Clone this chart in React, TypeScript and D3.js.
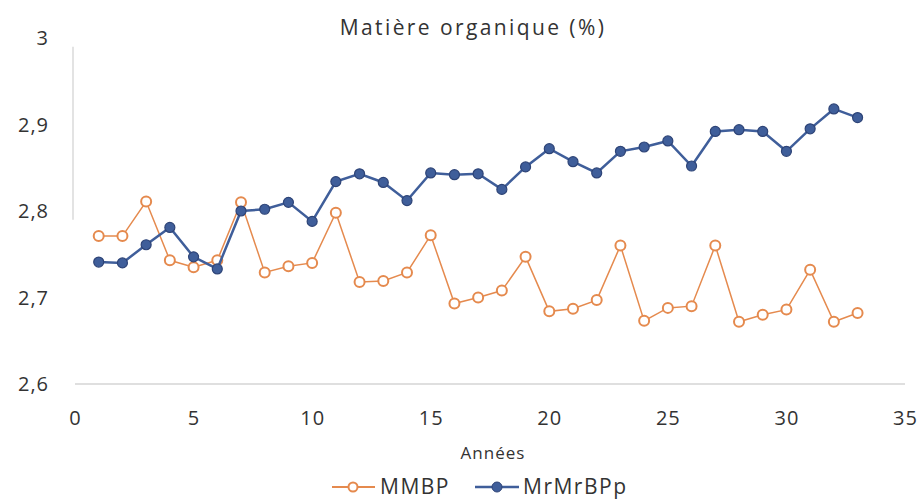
import React from "react";
import * as d3 from "d3";

const years: number[] = Array.from({ length: 33 }, (_, i) => i + 1);
const mmbp: number[] = [
  2.771, 2.771, 2.811, 2.743, 2.735, 2.743, 2.810, 2.729, 2.736, 2.740,
  2.798, 2.718, 2.719, 2.729, 2.772, 2.693, 2.700, 2.708, 2.747, 2.684,
  2.687, 2.697, 2.760, 2.673, 2.688, 2.690, 2.760, 2.672, 2.680, 2.686,
  2.732, 2.672, 2.682,
];
const mrmrbpp: number[] = [
  2.741, 2.740, 2.761, 2.781, 2.747, 2.733, 2.800, 2.802, 2.810, 2.788,
  2.834, 2.843, 2.833, 2.812, 2.844, 2.842, 2.843, 2.825, 2.851, 2.872,
  2.857, 2.844, 2.869, 2.874, 2.881, 2.852, 2.892, 2.894, 2.892, 2.869,
  2.895, 2.918, 2.908,
];
const xTicks: number[] = [0, 5, 10, 15, 20, 25, 30, 35];
const yTicks: number[] = [2.6, 2.7, 2.8, 2.9, 3];
const seriesNames: string[] = ["MMBP", "MrMrBPp"];
const title = "Matière organique (%)";
const xTitle = "Années";

const FONT = "'Open Sans', 'Noto Sans', sans-serif";
const ORANGE = "#E58A4E";
const BLUE = "#3F5E9A";

export default function App() {
  const x = d3.scaleLinear().domain([0, 35]).range([75, 905]);
  const y = d3.scaleLinear().domain([2.6, 3]).range([384, 38]);
  const line = d3
    .line<number>()
    .x((_, i) => x(years[i]))
    .y((d) => y(d));
  const fmt = (v: number) => (v === 3 ? "3" : d3.format(".1f")(v).replace(".", ","));

  return (
    <svg
      width={924}
      height={500}
      style={{ position: "absolute", left: 0, top: 0, background: "#fff" }}
      fontFamily={FONT}
    >
      <rect x={0} y={0} width={924} height={500} fill="#fff" />
      {/* axes */}
      <line x1={x(0)} x2={x(35)} y1={y(2.6)} y2={y(2.6)} stroke="#d4d4d4" strokeWidth={1.5} />
      <line x1={x(0) - 2} x2={x(0) - 2} y1={y(2.99)} y2={y(2.79)} stroke="#dadada" strokeWidth={1.5} />
      {/* y tick labels */}
      {yTicks.map((t) => (
        <text key={t} x={49} y={y(t) + 7} textAnchor="end" fontSize={20} letterSpacing={1} fill="#333">
          {fmt(t)}
        </text>
      ))}
      {/* x tick labels */}
      {xTicks.map((t) => (
        <text key={t} x={x(t) + 0.5} y={425} textAnchor="middle" fontSize={20} letterSpacing={1} fill="#333">
          {t}
        </text>
      ))}
      {/* title */}
      <text x={473} y={35} textAnchor="middle" fontSize={21} letterSpacing={2.4} fill="#333">
        {title}
      </text>
      <text x={493} y={459} textAnchor="middle" fontSize={17} letterSpacing={1} fill="#333">
        {xTitle}
      </text>
      {/* MMBP series */}
      <path d={line(mmbp) || ""} fill="none" stroke={ORANGE} strokeWidth={1.5} />
      {mmbp.map((v, i) => (
        <circle key={"o" + i} cx={x(years[i])} cy={y(v)} r={5} fill="#fff" stroke={ORANGE} strokeWidth={2} />
      ))}
      {/* MrMrBPp series */}
      <path d={line(mrmrbpp) || ""} fill="none" stroke={BLUE} strokeWidth={2.5} />
      {mrmrbpp.map((v, i) => (
        <circle key={"b" + i} cx={x(years[i])} cy={y(v)} r={5} fill={BLUE} stroke="#2E4477" strokeWidth={1.2} />
      ))}
      {/* legend */}
      <g transform="translate(332,487)">
        <line x1={0} x2={43} y1={0} y2={0} stroke={ORANGE} strokeWidth={2} />
        <circle cx={21} cy={0} r={4.5} fill="#fff" stroke={ORANGE} strokeWidth={2} />
        <text x={48} y={7} fontSize={21} letterSpacing={1.5} fill="#333">
          {seriesNames[0]}
        </text>
      </g>
      <g transform="translate(475,487)">
        <line x1={0} x2={44} y1={0} y2={0} stroke={BLUE} strokeWidth={2.5} />
        <circle cx={22} cy={0} r={5} fill={BLUE} stroke="#2E4477" strokeWidth={1} />
        <text x={48} y={7} fontSize={21} letterSpacing={1.5} fill="#333">
          {seriesNames[1]}
        </text>
      </g>
    </svg>
  );
}
